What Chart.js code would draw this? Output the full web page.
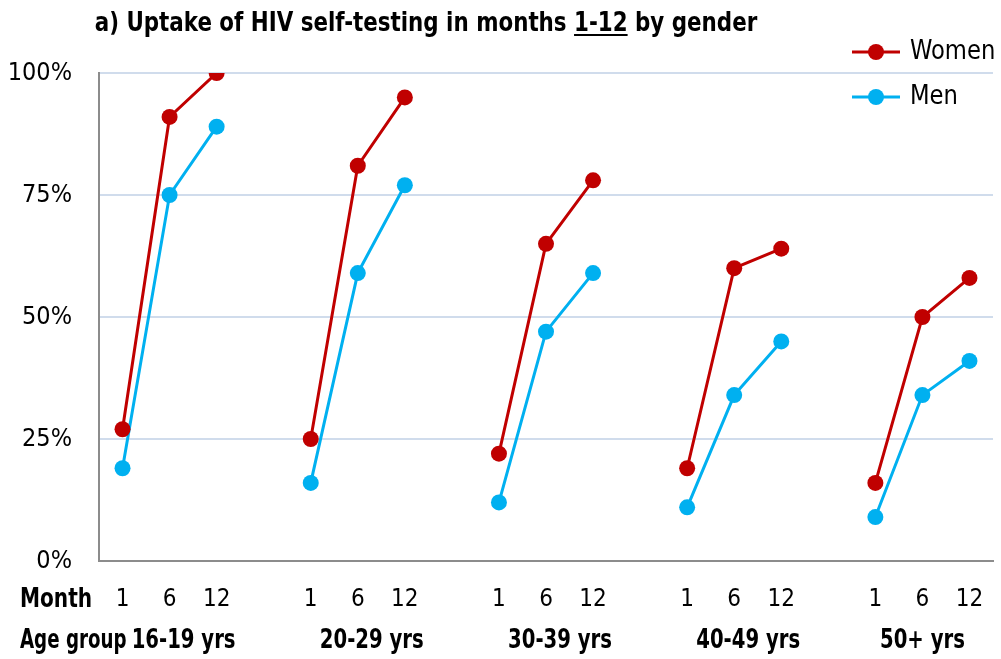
<!DOCTYPE html>
<html>
<head>
<meta charset="utf-8">
<title>Uptake of HIV self-testing by gender</title>
<script src="https://cdn.jsdelivr.net/npm/chart.js@4.4.1/dist/chart.umd.min.js"></script>
<style>
    html, body { margin: 0; padding: 0; background: #ffffff; }
    #wrap { width: 1001px; height: 659px; position: relative; }
</style>
</head>
<body>
<div id="wrap"><canvas id="uptakeChart" width="1001" height="659"></canvas></div>
<script>
// Datos (porcentaje de captación)
const monthLabels = ['1', '6', '12'];
const ageGroups = ['16-19 yrs', '20-29 yrs', '30-39 yrs', '40-49 yrs', '50+ yrs'];
const womenValues = [[27, 91, 100], [25, 81, 95], [22, 65, 78], [19, 60, 64], [16, 50, 58]];
const menValues = [[19, 75, 89], [16, 59, 77], [12, 47, 59], [11, 34, 45], [9, 34, 41]];
const yTicks = [0, 25, 50, 75, 100];

const COLORS = {
    women: '#c00000',
    men: '#00b0f0',
    grid: '#d0dcec',
    axis: '#8c8c8c',
    text: '#000000'
};
const FONT = "'DejaVu Sans Condensed', 'Open Sans', sans-serif";

// Categorías planas con un hueco entre grupos de edad
function buildLabels() {
    const out = [];
    ageGroups.forEach((g, i) => {
        if (i > 0) out.push('');
        monthLabels.forEach(m => out.push(m));
    });
    return out;
}
function flatten(groups) {
    const out = [];
    groups.forEach((g, i) => {
        if (i > 0) out.push(null);
        g.forEach(v => out.push(v));
    });
    return out;
}

const labels = buildLabels();

// Texto comprimido horizontalmente (la fuente original es más estrecha)
function drawText(ctx, text, x, y, sx, align) {
    const w = ctx.measureText(text).width * sx;
    let left = x;
    if (align === 'center') left = x - w / 2;
    if (align === 'right') left = x - w;
    ctx.save();
    ctx.translate(left, y);
    ctx.scale(sx, 1);
    ctx.textAlign = 'left';
    ctx.fillText(text, 0, 0);
    ctx.restore();
    return w;
}

// Título, leyenda y filas inferiores
const extrasPlugin = {
    id: 'extras',
    afterDraw(chart) {
        const ctx = chart.ctx;
        const x = chart.scales.x;
        ctx.save();

        // Título con "1-12" subrayado
        const parts = ['a) Uptake of HIV self-testing in months ', '1-12', ' by gender'];
        const sxTitle = 0.915;
        ctx.font = 'bold 26px ' + FONT;
        ctx.fillStyle = COLORS.text;
        ctx.textBaseline = 'alphabetic';
        const widths = parts.map(p => ctx.measureText(p).width * sxTitle);
        const total = widths.reduce((a, b) => a + b, 0);
        let tx = 426 - total / 2;
        const ty = 31;
        parts.forEach((p, i) => {
            drawText(ctx, p, tx, ty, sxTitle, 'left');
            if (i === 1) {
                ctx.fillRect(tx, ty + 3, widths[i], 2);
            }
            tx += widths[i];
        });

        // Leyenda
        const items = [
            { text: 'Women', color: COLORS.women, y: 52 },
            { text: 'Men', color: COLORS.men, y: 97 }
        ];
        items.forEach(it => {
            ctx.strokeStyle = it.color;
            ctx.lineWidth = 3;
            ctx.beginPath();
            ctx.moveTo(852, it.y);
            ctx.lineTo(900, it.y);
            ctx.stroke();
            ctx.fillStyle = it.color;
            ctx.beginPath();
            ctx.arc(876, it.y, 8, 0, Math.PI * 2);
            ctx.fill();
            ctx.fillStyle = COLORS.text;
            ctx.font = '26px ' + FONT;
            ctx.textBaseline = 'middle';
            drawText(ctx, it.text, 910, it.y, 0.97, 'left');
        });

        // Filas inferiores: Month / Age group
        const sxRow = 0.84;
        ctx.font = 'bold 26px ' + FONT;
        ctx.fillStyle = COLORS.text;
        ctx.textBaseline = 'middle';
        drawText(ctx, 'Month', 20, 600, 0.86, 'left');
        drawText(ctx, 'Age group', 20, 641, 0.78, 'left');
        ageGroups.forEach((g, i) => {
            const mid = x.getPixelForValue(i * 4 + 1);
            drawText(ctx, g, mid + (i === 4 ? 0 : 14), 641, sxRow, 'center');
        });
        ctx.restore();
    }
};

new Chart(document.getElementById('uptakeChart'), {
    type: 'line',
    data: {
        labels: labels,
        datasets: [
            {
                label: 'Women',
                data: flatten(womenValues),
                borderColor: COLORS.women,
                backgroundColor: COLORS.women,
                borderWidth: 3,
                pointRadius: 8,
                pointHoverRadius: 8,
                pointBorderWidth: 0,
                spanGaps: false,
                tension: 0
            },
            {
                label: 'Men',
                data: flatten(menValues),
                borderColor: COLORS.men,
                backgroundColor: COLORS.men,
                borderWidth: 3,
                pointRadius: 8,
                pointHoverRadius: 8,
                pointBorderWidth: 0,
                spanGaps: false,
                tension: 0
            }
        ]
    },
    options: {
        responsive: false,
        animation: false,
        layout: { padding: { top: 73, right: 6, bottom: 0, left: 0 } },
        plugins: {
            legend: { display: false },
            title: { display: false },
            tooltip: { enabled: false }
        },
        scales: {
            x: {
                type: 'category',
                offset: true,
                grid: { display: false, drawTicks: false },
                border: { display: true, color: COLORS.axis, width: 2 },
                ticks: {
                    color: COLORS.text,
                    font: { family: FONT, size: 24 },
                    padding: 24,
                    maxRotation: 0,
                    autoSkip: false
                },
                afterFit(scale) {
                    scale.height = 98;
                    scale.paddingLeft = 0;
                    scale.paddingRight = 0;
                }
            },
            y: {
                min: 0,
                max: 100,
                afterBuildTicks(scale) {
                    scale.ticks = yTicks.map(v => ({ value: v }));
                },
                grid: {
                    drawTicks: false,
                    lineWidth: 2,
                    color: ctx => (ctx.tick && ctx.tick.value === 0) ? 'rgba(0,0,0,0)' : COLORS.grid
                },
                border: { display: true, color: COLORS.axis, width: 2 },
                ticks: {
                    color: COLORS.text,
                    font: { family: FONT, size: 25 },
                    padding: 27,
                    callback: v => v + '%'
                },
                afterFit(scale) { scale.width = 99; }
            }
        }
    },
    plugins: [extrasPlugin]
});
</script>
</body>
</html>
